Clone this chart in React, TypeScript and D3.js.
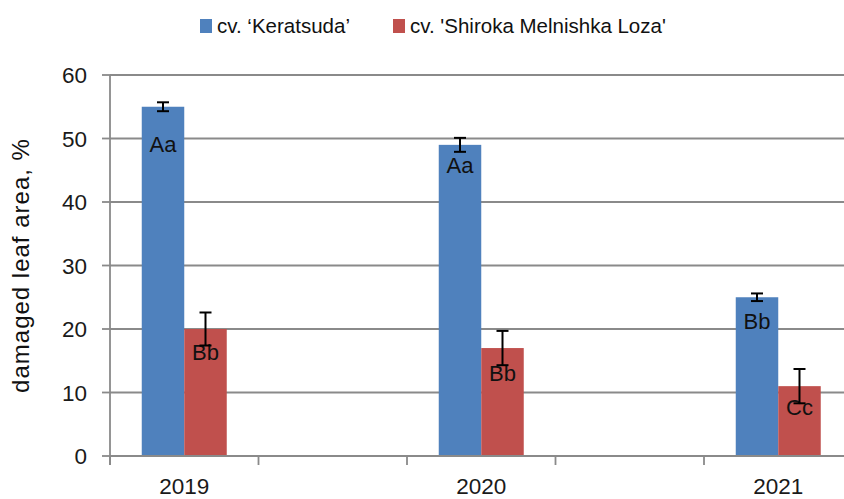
import React from "react";
import * as d3 from "d3";

const years = ["2019", "2020", "2021"];
const slots = ["2019", "gap1", "2020", "gap2", "2021"];
const seriesNames = ["cv. \u2018Keratsuda\u2019", "cv. 'Shiroka Melnishka Loza'"];
const keratsuda = [55, 49, 25];
const shiroka = [20, 17, 11];
const keratsudaErr = [0.7, 1.1, 0.6];
const shirokaErr = [2.6, 2.7, 2.7];
const keratsudaLetters = ["Aa", "Aa", "Bb"];
const shirokaLetters = ["Bb", "Bb", "Cc"];
const keratsudaLabelAt = [47.8, 44.6, 20.0];
const shirokaLabelAt = [15.1, 11.8, 6.5];
const yTicks = [0, 10, 20, 30, 40, 50, 60];

const W = 844;
const H = 499;
const colors = ["#4F81BD", "#C0504D"];
const FONT = "'Liberation Sans', Arial, sans-serif";

export default function App() {
  const left = 110;
  const top = 75;
  const bottom = 456;
  const y = d3.scaleLinear().domain([0, 60]).range([bottom, top]);
  const x = d3.scaleBand().domain(slots).range([left, left + 5 * 148.5]).padding(0);
  const inner = d3
    .scaleBand()
    .domain(["0", "1"])
    .range([0, x.bandwidth()])
    .paddingOuter(0.747)
    .paddingInner(0);

  const series = [
    { vals: keratsuda, err: keratsudaErr, letters: keratsudaLetters, labelAt: keratsudaLabelAt },
    { vals: shiroka, err: shirokaErr, letters: shirokaLetters, labelAt: shirokaLabelAt },
  ];

  const boundaries = slots.map((s) => x(s) as number);

  return (
    <svg
      width={W}
      height={H}
      style={{ position: "absolute", left: 0, top: 0, background: "#fff" }}
      fontFamily={FONT}
    >
      <rect x={0} y={0} width={W} height={H} fill="#fff" />
      {yTicks.filter((t) => t > 0).map((t) => (
        <line key={"g" + t} x1={left} x2={W} y1={y(t)} y2={y(t)} stroke="#8a8a8a" strokeWidth={1.8} />
      ))}
      {yTicks.map((t) => (
        <g key={"yt" + t}>
          <line x1={102} x2={left} y1={y(t)} y2={y(t)} stroke="#8a8a8a" strokeWidth={1.8} />
          <text x={87} y={y(t)} dy="0.36em" textAnchor="end" fontSize={22.5} fill="#1a1a1a">
            {t}
          </text>
        </g>
      ))}
      {years.map((yr, i) =>
        series.map((s, j) => {
          const bx = (x(yr) as number) + (inner(String(j)) as number);
          const bw = inner.bandwidth();
          return (
            <rect
              key={"b" + yr + j}
              x={bx}
              y={y(s.vals[i])}
              width={bw}
              height={y(0) - y(s.vals[i])}
              fill={colors[j]}
            />
          );
        })
      )}
      {years.map((yr, i) =>
        series.map((s, j) => {
          const cx = (x(yr) as number) + (inner(String(j)) as number) + inner.bandwidth() / 2;
          return (
            <text
              key={"l" + yr + j}
              x={cx}
              y={y(s.labelAt[i])}
              textAnchor="middle"
              fontSize={22}
              fill="#111"
            >
              {s.letters[i]}
            </text>
          );
        })
      )}
      {years.map((yr, i) =>
        series.map((s, j) => {
          const cx = (x(yr) as number) + (inner(String(j)) as number) + inner.bandwidth() / 2;
          const y1 = y(s.vals[i] + s.err[i]);
          const y2 = y(s.vals[i] - s.err[i]);
          return (
            <g key={"e" + yr + j} stroke="#000" strokeWidth={2}>
              <line x1={cx} x2={cx} y1={y1} y2={y2} />
              <line x1={cx - 6} x2={cx + 6} y1={y1} y2={y1} />
              <line x1={cx - 6} x2={cx + 6} y1={y2} y2={y2} />
            </g>
          );
        })
      )}
      <line x1={left} x2={left} y1={top} y2={465} stroke="#8a8a8a" strokeWidth={1.8} />
      <line x1={left} x2={W} y1={bottom} y2={bottom} stroke="#8a8a8a" strokeWidth={1.8} />
      {boundaries.map((b, i) => (
        <line key={"xt" + i} x1={b} x2={b} y1={bottom} y2={465} stroke="#8a8a8a" strokeWidth={1.8} />
      ))}
      {years.map((yr) => (
        <text
          key={"xl" + yr}
          x={(x(yr) as number) + x.bandwidth() / 2}
          y={494}
          textAnchor="middle"
          fontSize={22.5}
          fill="#1a1a1a"
        >
          {yr}
        </text>
      ))}
      <text
        transform={`translate(29, ${(top + bottom) / 2}) rotate(-90)`}
        textAnchor="middle"
        fontSize={24}
        letterSpacing={1}
        fill="#111"
      >
        damaged leaf area, %
      </text>
      {seriesNames.map((n, j) => {
        const lx = j === 0 ? 200 : 393;
        return (
          <g key={"lg" + j}>
            <rect x={lx} y={19} width={12} height={14} fill={colors[j]} />
            <text x={lx + 17} y={33} fontSize={20.5} fill="#111">
              {n}
            </text>
          </g>
        );
      })}
    </svg>
  );
}
